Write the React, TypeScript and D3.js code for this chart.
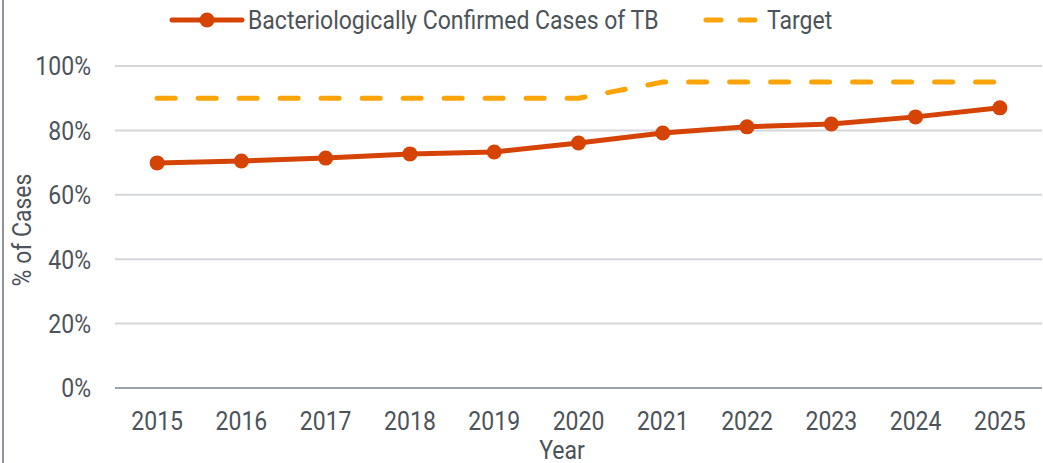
import * as d3 from "d3";

const years = ["2015", "2016", "2017", "2018", "2019", "2020", "2021", "2022", "2023", "2024", "2025"];
const confirmed = [69.9, 70.5, 71.4, 72.7, 73.3, 76.1, 79.2, 81.1, 82.0, 84.2, 87.0];
const target = [90, 90, 90, 90, 90, 90, 95, 95, 95, 95, 95];
const yTicks = [0, 20, 40, 60, 80, 100];

const W = 1043, H = 463;
const M = { left: 115, right: 1042, top: 66, bottom: 388 };
const FONT = "'Roboto', sans-serif";
const INK = "#4d5359";
const RED = "#D54305";
const GOLD = "#FBA40A";
const FS = 26;
const SX = 0.885; // squeeze glyphs to look like the condensed face

function Label({ x, y, anchor = "start", rotate = 0, children }:
  { x: number; y: number; anchor?: string; rotate?: number; children: React.ReactNode }) {
  return (
    <text transform={`translate(${x},${y}) rotate(${rotate}) scale(${SX},1)`} dy="0.36em"
      textAnchor={anchor} fontSize={FS} fill={INK}>{children}</text>
  );
}

export default function App() {
  const x = d3.scaleBand<string>().domain(years).range([M.left, M.right]);
  const y = d3.scaleLinear().domain([0, 100]).range([M.bottom, M.top]);
  const cx = (yr: string) => (x(yr) ?? 0) + x.bandwidth() / 2;

  const line = d3.line<number>().x((_, i) => cx(years[i])).y((v) => y(v));

  return (
    <svg width={W} height={H} style={{ position: "absolute", left: 0, top: 0, background: "#fff", fontFamily: FONT }}>
      {/* frame edge */}
      <line x1={3} y1={0} x2={3} y2={H} stroke="#8e959c" strokeWidth={2} />

      {/* gridlines */}
      {yTicks.map((t) => (
        <g key={t}>
          <line x1={M.left} x2={M.right} y1={y(t)} y2={y(t)}
            stroke={t === 0 ? "#9aa2aa" : "#d3d7db"} strokeWidth={2} />
          <Label x={91} y={y(t)} anchor="end">{t}%</Label>
        </g>
      ))}

      {/* x labels */}
      {years.map((yr) => (
        <Label key={yr} x={cx(yr)} y={421} anchor="middle">{yr}</Label>
      ))}

      {/* axis titles */}
      <Label x={562} y={450} anchor="middle">Year</Label>
      <Label x={22} y={(M.top + M.bottom) / 2 + 3} anchor="middle" rotate={-90}>% of Cases</Label>

      {/* target */}
      <path d={line(target) ?? ""} fill="none" stroke={GOLD} strokeWidth={5}
        strokeLinecap="round" strokeDasharray="18,23" />

      {/* confirmed */}
      <path d={line(confirmed) ?? ""} fill="none" stroke={RED} strokeWidth={5} strokeLinejoin="round" />
      {confirmed.map((v, i) => (
        <circle key={i} cx={cx(years[i])} cy={y(v)} r={7.5} fill={RED} />
      ))}

      {/* legend */}
      <line x1={172} x2={242} y1={20} y2={20} stroke={RED} strokeWidth={5} strokeLinecap="round" />
      <circle cx={207} cy={20} r={7.5} fill={RED} />
      <Label x={248} y={20}>Bacteriologically Confirmed Cases of TB</Label>
      <line x1={706} x2={756} y1={20} y2={20} stroke={GOLD} strokeWidth={5}
        strokeLinecap="round" strokeDasharray="15,19" />
      <Label x={767} y={20}>Target</Label>
    </svg>
  );
}
